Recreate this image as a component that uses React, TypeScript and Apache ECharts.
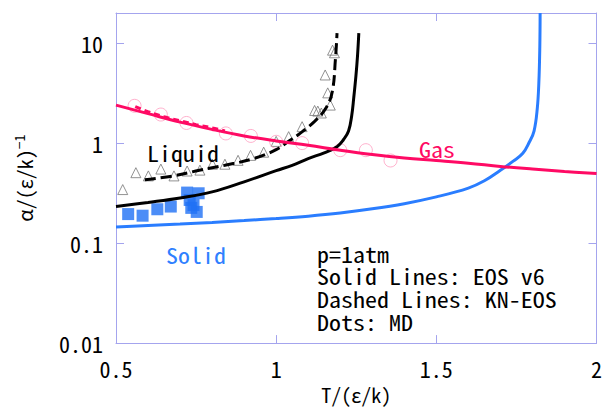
import React, { useEffect, useRef } from "react";
import * as echarts from "echarts";

// Gas branch (EOS v6, solid pink)
const gasT = [0.5, 0.6, 0.7, 0.8, 0.9, 1.0, 1.1, 1.2, 1.3, 1.4, 1.5, 1.6, 1.7, 1.8, 1.9, 2.0];
const gasEOS = [2.4, 1.97, 1.62, 1.37, 1.18, 1.05, 0.95, 0.85, 0.77, 0.71, 0.67, 0.63, 0.585, 0.55, 0.52, 0.497];

// Gas branch (KN-EOS, dashed pink)
const gasKNT = [0.56, 0.6, 0.65, 0.7, 0.75, 0.8, 0.84];
const gasKN = [2.32, 2.06, 1.84, 1.67, 1.53, 1.42, 1.32];

// Gas MD (open circles)
const gasMDT = [0.558, 0.64, 0.72, 0.843, 0.921, 1.0, 1.081, 1.2, 1.28, 1.357];
const gasMD = [2.36, 1.93, 1.59, 1.25, 1.18, 1.03, 1.0, 0.85, 0.85, 0.67];

// Liquid branch (EOS v6, solid black)
const liqT = [0.5, 0.6, 0.7, 0.8, 0.9, 1.0, 1.05, 1.1, 1.15, 1.19, 1.21, 1.226, 1.236, 1.242, 1.249, 1.254, 1.258];
const liqEOS = [0.232, 0.255, 0.283, 0.325, 0.41, 0.53, 0.6, 0.7, 0.8, 0.92, 1.08, 1.32, 1.9, 2.8, 4.7, 7.5, 12.6];

// Liquid branch (KN-EOS, dashed black)
const liqKNT = [0.59, 0.68, 0.76, 0.84, 0.93, 1.0, 1.04, 1.07, 1.12, 1.155, 1.175, 1.185, 1.19];
const liqKN = [0.43, 0.47, 0.535, 0.6, 0.7, 0.86, 1.05, 1.22, 1.65, 2.23, 3.25, 6.9, 12.6];

// Liquid MD (open triangles)
const liqMDT = [0.521, 0.562, 0.601, 0.64, 0.681, 0.722, 0.762, 0.801, 0.84, 0.881, 0.92, 0.961, 1.0, 1.039, 1.081, 1.12, 1.13, 1.141, 1.169, 1.161, 1.153, 1.176, 1.182];
const liqMD = [0.343, 0.506, 0.47, 0.55, 0.47, 0.526, 0.537, 0.615, 0.615, 0.673, 0.754, 0.811, 1.04, 1.16, 1.46, 2.12, 2.09, 2.0, 2.4, 3.18, 4.8, 8.5, 8.0];

// Solid branch (EOS v6, solid blue)
const solT = [0.5, 0.6, 0.7, 0.8, 0.9, 1.0, 1.1, 1.2, 1.3, 1.4, 1.5, 1.6, 1.65, 1.7, 1.74, 1.77, 1.79, 1.805, 1.815, 1.82, 1.823, 1.824];
const solEOS = [0.145, 0.15, 0.155, 0.161, 0.168, 0.176, 0.186, 0.2, 0.22, 0.248, 0.29, 0.355, 0.42, 0.535, 0.66, 0.79, 1.02, 1.32, 2.2, 4, 9, 20];

// Solid MD (filled squares)
const solMDT = [0.538, 0.583, 0.629, 0.671, 0.722, 0.758, 0.73, 0.742, 0.735, 0.752];
const solMD = [0.195, 0.188, 0.218, 0.232, 0.32, 0.315, 0.27, 0.24, 0.225, 0.205];

const xTicks = [0.5, 1, 1.5, 2];
const yTicks = [0.01, 0.1, 1, 10];

const pair = (xs: number[], ys: number[]) => xs.map((x, i) => [x, ys[i]]);

export default function App() {
  const ref = useRef<HTMLDivElement>(null);
  useEffect(() => {
    const chart = echarts.init(ref.current!, null, { renderer: "svg" });
    const axisColor = "#a4a4ee";
    const mono = '"Noto Sans Mono CJK JP", "DejaVu Sans Mono", monospace';
    const pink = "#ff0a64";
    const blue = "#2a7dff";
    const baseX = {
      type: "value",
      min: xTicks[0],
      max: xTicks[xTicks.length - 1],
      interval: 0.5,
      splitLine: { show: false },
      axisLine: { show: true, onZero: false, lineStyle: { color: axisColor, width: 1 } },
      axisTick: { show: true, inside: true, length: 8, lineStyle: { color: axisColor } },
    };
    const baseY = {
      type: "log",
      logBase: 10,
      min: yTicks[0],
      max: 20,
      splitLine: { show: false },
      minorTick: { show: false },
      axisLine: { show: true, onZero: false, lineStyle: { color: axisColor, width: 1 } },
      axisTick: { show: true, inside: true, length: 8, lineStyle: { color: axisColor } },
    };
    const textStyle = (fill: string) => ({
      fill,
      fontSize: 22,
      fontFamily: mono,
      align: "center",
      verticalAlign: "middle",
      textAlign: "center",
      textVerticalAlign: "middle",
    });
    const line = (name: string, xs: number[], ys: number[], color: string, type: any, z: number) => ({
      name,
      type: "line",
      data: pair(xs, ys),
      showSymbol: false,
      smooth: 0.4,
      lineStyle: { color, width: 3, type },
      z,
    });
    const notes = ["p=1atm", "Solid Lines: EOS v6", "Dashed Lines: KN-EOS", "Dots: MD"];
    chart.setOption({
      animation: false,
      grid: { left: 116, right: 7, top: 13, bottom: 59 },
      xAxis: [
        {
          ...baseX,
          position: "bottom",
          name: "T/(ε/k)",
          nameLocation: "middle",
          nameGap: 36,
          nameTextStyle: { color: "#000", fontSize: 20, fontFamily: mono },
          axisLabel: {
            margin: 14,
            color: "#000",
            fontSize: 22,
            fontFamily: mono,
            formatter: (v: number) => (xTicks.includes(v) ? String(v) : ""),
          },
        },
        { ...baseX, position: "top", axisLabel: { show: false } },
      ],
      yAxis: [
        {
          ...baseY,
          position: "left",
          name: "α/(ε/k){sup|−1}",
          nameLocation: "middle",
          nameGap: 80,
          nameTextStyle: {
            color: "#000",
            fontSize: 20,
            fontFamily: mono,
            lineHeight: 24,
            rich: { sup: { fontSize: 14, fontFamily: mono, color: "#000", verticalAlign: "top", lineHeight: 24 } },
          },
          axisLabel: {
            margin: 13,
            color: "#000",
            fontSize: 22,
            fontFamily: mono,
            showMaxLabel: false,
            formatter: (v: number) => {
              const hit = yTicks.find((t) => Math.abs(t - v) / t < 1e-6);
              return hit !== undefined ? String(hit) : "";
            },
          },
        },
        { ...baseY, position: "right", axisLabel: { show: false } },
      ],
      series: [
        line("Solid EOS v6", solT, solEOS, blue, "solid", 2),
        {
          name: "Solid MD",
          type: "scatter",
          data: pair(solMDT, solMD),
          symbol: "rect",
          symbolSize: 12,
          itemStyle: { color: "#1f70f5" },
          z: 3,
        },
        {
          name: "Liquid MD",
          type: "scatter",
          data: pair(liqMDT, liqMD),
          symbol: "triangle",
          symbolSize: 10,
          itemStyle: { color: "rgba(255,255,255,0)", borderColor: "#777", borderWidth: 1 },
          z: 3,
        },
        {
          name: "Gas MD",
          type: "scatter",
          data: pair(gasMDT, gasMD),
          symbol: "circle",
          symbolSize: 13,
          itemStyle: { color: "rgba(255,255,255,0)", borderColor: "#ff9ec0", borderWidth: 1 },
          z: 3,
        },
        line("Liquid EOS v6", liqT, liqEOS, "#000", "solid", 4),
        line("Liquid KN-EOS", liqKNT, liqKN, "#000", [11, 5], 4),
        line("Gas KN-EOS", gasKNT, gasKN, pink, [6, 4], 4),
        line("Gas EOS v6", gasT, gasEOS, pink, "solid", 5),
      ],
      graphic: [
        { type: "text", x: 183, y: 152, scaleX: 1.09, z: 10, style: { text: "Liquid", ...textStyle("#000") } },
        { type: "text", x: 437, y: 148, scaleX: 1.09, z: 10, style: { text: "Gas", ...textStyle(pink) } },
        { type: "text", x: 196, y: 254, scaleX: 1.09, z: 10, style: { text: "Solid", ...textStyle("#2f80ff") } },
        ...notes.map((t, i) => ({
          type: "text",
          x: 317,
          y: 253 + i * 22.9,
          scaleX: 1.09,
          z: 10,
          style: { text: t, ...textStyle("#000"), align: "left", textAlign: "left" },
        })),
      ],
    });
    return () => chart.dispose();
  }, []);
  return <div ref={ref} style={{ position: "fixed", left: 0, top: 0, width: 605, height: 409, background: "#fff" }} />;
}
